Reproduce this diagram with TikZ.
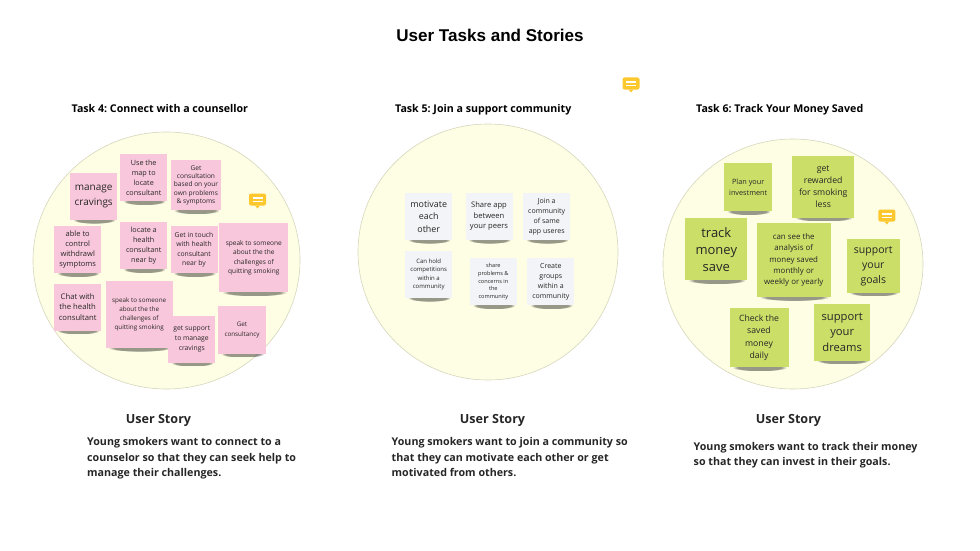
\documentclass[tikz,border=0pt]{standalone}
\usepackage{fontspec}
\setmainfont{Open Sans}
\newfontfamily\titlefont{Liberation Sans}
\usetikzlibrary{shapes.geometric,fadings}
\definecolor{pinknote}{RGB}{249,199,219}
\definecolor{greennote}{RGB}{203,223,104}
\definecolor{greynote}{RGB}{243,244,247}
\definecolor{pale}{RGB}{254,254,228}
\definecolor{paleline}{RGB}{214,214,190}
\definecolor{chat}{RGB}{253,200,46}
\newcommand{\fs}[2]{\fontsize{#1}{#2}\selectfont}
\frenchspacing
\pgfdeclarelayer{discs}
\pgfdeclarelayer{shade}
\pgfsetlayers{discs,shade,main}
\begin{document}
\begin{tikzpicture}[x=1pt,y=-1pt,
  note/.style={inner sep=0pt,align=center,text=black!85},
  pink/.style={note,fill=pinknote,minimum width=#1,minimum height=#1},
  green/.style={note,fill=greennote,minimum width=#1,minimum height=#1},
  grey/.style={note,fill=greynote,minimum width=#1,minimum height=#1},
  disc/.style={ellipse,draw=paleline,fill=pale,line width=.6pt,inner sep=0pt},
  task/.style={font=\bfseries\fs{10.65}{13},anchor=base west,inner sep=0pt},
  storyhead/.style={font=\bfseries\fs{12.6}{15},text=black!85,anchor=base,inner sep=0pt},
  story/.style={font=\bfseries\fs{10.7}{15.2},text=black!85,anchor=north west,align=left,inner sep=0pt},
  chaticon/.pic={
    \fill[chat,rounded corners=2pt] (-8.5,-7) rectangle (8.5,5);
    \fill[chat] (-2.5,5) -- (0,8) -- (2.5,5) -- cycle;
    \fill[white] (-5,-3.2) rectangle (5,-1.7);
    \fill[white] (-5,0.2) rectangle (5,1.7);
  }]
  \useasboundingbox (0,0) rectangle (980,551);
  \node (title) at (490,35.5) [font=\titlefont\bfseries\fs{17.05}{20}] {User Tasks and Stories};

  \node (task4) at (71.5,112) [task] {Task 4: Connect with a counsellor};
  \node (task5) at (395,112) [task] {Task 5: Join a support community};
  \node (task6) at (696,112) [task] {Task 6: Track Your Money Saved};

  \begin{pgfonlayer}{discs}
  \node (disc4) at (166.5,260.5) [disc,minimum width=267pt,minimum height=257pt] {};
  \node (disc5) at (488,252) [disc,minimum width=260pt,minimum height=256pt] {};
  \node (disc6) at (793,264) [disc,minimum width=260pt,minimum height=250pt] {};
  \end{pgfonlayer}

  % task 4
  \node (a1) at (93.7,196.3) [pink=47pt,font=\fs{10}{14.5}] {manage\\cravings};
  \node (a2) at (143.7,177.7) [pink=47pt,font=\fs{7.2}{10}] {Use the\\map to\\locate\\consultant};
  \node (a3) at (196,185.3) [pink=50pt,font=\fs{6.6}{8.3}] {Get\\consultation\\based on your\\own problems\\\& symptoms};
  \node (a4) at (77.7,249.7) [pink=47pt,font=\fs{7.5}{9.8}] {able to\\control\\withdrawl\\symptoms};
  \node (a5) at (143.7,245.7) [pink=47pt,font=\fs{7.2}{10}] {locate a\\health\\consultant\\near by};
  \node (a6) at (194,249.7) [pink=47pt,font=\fs{6.8}{9.1}] {Get in touch\\with health\\consultant\\near by};
  \node (a7) at (253.8,257.8) [pink=69pt,font=\fs{6.55}{9.3}] {speak to someone\\about the the\\challenges of\\quitting smoking};
  \node (a8) at (77.7,307) [pink=47pt,font=\fs{7.7}{10.3}] {Chat with\\the health\\consultant};
  \node (a9) at (139.2,314.3) [pink=67pt,font=\fs{6.3}{9.1}] {speak to someone\\about the the\\challenges of\\quitting smoking};
  \node (a10) at (191.8,339.2) [pink=47pt,font=\fs{6.8}{9.8}] {get support\\to manage\\cravings};
  \node (a11) at (242,330) [pink=47.5pt,font=\fs{6.3}{9.3}] {Get\\consultancy};

  % task 5
  \node (b1) at (428.7,216.3) [grey=47pt,font=\fs{8.9}{12.5}] {motivate\\each\\other};
  \node (b2) at (489,216.3) [grey=47pt,font=\fs{7.6}{10.3}] {Share app\\between\\your peers};
  \node (b3) at (546.7,216.3) [grey=47pt,font=\fs{7}{10}] {Join a\\community\\of same\\app useres};
  \node (b4) at (428.7,274.3) [grey=47pt,font=\fs{6}{8.4}] {Can hold\\competitions\\within a\\community};
  \node (b5) at (493.3,281.8) [grey=47pt,font=\fs{5.6}{7.7}] {share\\problems \&\\concerns in\\the\\community};
  \node (b6) at (550.8,281.8) [grey=47pt,font=\fs{7}{9.9}] {Create\\groups\\within a\\community};

  % task 6
  \node (c1) at (748.2,187.2) [green=48pt,font=\fs{7.3}{10.3}] {Plan your\\investment};
  \node (c2) at (823.2,186.7) [green=62pt,font=\fs{8.7}{12}] {get\\rewarded\\for smoking\\less};
  \node (c3) at (716.3,249.2) [green=62pt,font=\fs{13}{17}] {track\\money\\save};
  \node (c4) at (793.7,260) [green=74pt,font=\fs{7.9}{11.2}] {can see the\\analysis of\\money saved\\monthly or\\weekly or yearly};
  \node (c5) at (873.3,265.8) [green=53.5pt,font=\fs{10.5}{15}] {support\\your\\goals};
  \node (c6) at (759,337.8) [green=59pt,font=\fs{8.7}{12.2}] {Check the\\saved\\money\\daily};
  \node (c7) at (842.2,332.3) [green=56.5pt,font=\fs{11.2}{15.5}] {support\\your\\dreams};

  % shadows under the notes
  \begin{pgfonlayer}{shade}
  \foreach \n in {a1,a2,a3,a4,a5,a6,a7,a8,a9,a10,a11,b1,b2,b3,b4,b5,b6,c1,c2,c3,c4,c5,c6,c7} {
    \fill[black,opacity=.4,path fading=circle with fuzzy edge 20 percent] ([xshift=3pt,yshift=3.5pt]\n.south west) rectangle ([xshift=-2pt,yshift=-3.5pt]\n.south east);
  }
  \end{pgfonlayer}

  \pic at (631,84.5) {chaticon};
  \pic at (257.5,200.5) {chaticon};
  \pic at (886.8,216.5) {chaticon};

  \node (head4) at (158.5,423.5) [storyhead] {User Story};
  \node (head5) at (492.5,423.5) [storyhead] {User Story};
  \node (head6) at (788.5,423.5) [storyhead] {User Story};

  \node (story4) at (87,437.5) [story] {Young smokers want to connect to a\\counselor so that they can seek help to\\manage their challenges.};
  \node (story5) at (391.5,437.5) [story] {Young smokers want to join a community so\\that they can motivate each other or get\\motivated from others.};
  \node (story6) at (693.5,442) [story] {Young smokers want to track their money\\so that they can invest in their goals.};
\end{tikzpicture}
\end{document}
